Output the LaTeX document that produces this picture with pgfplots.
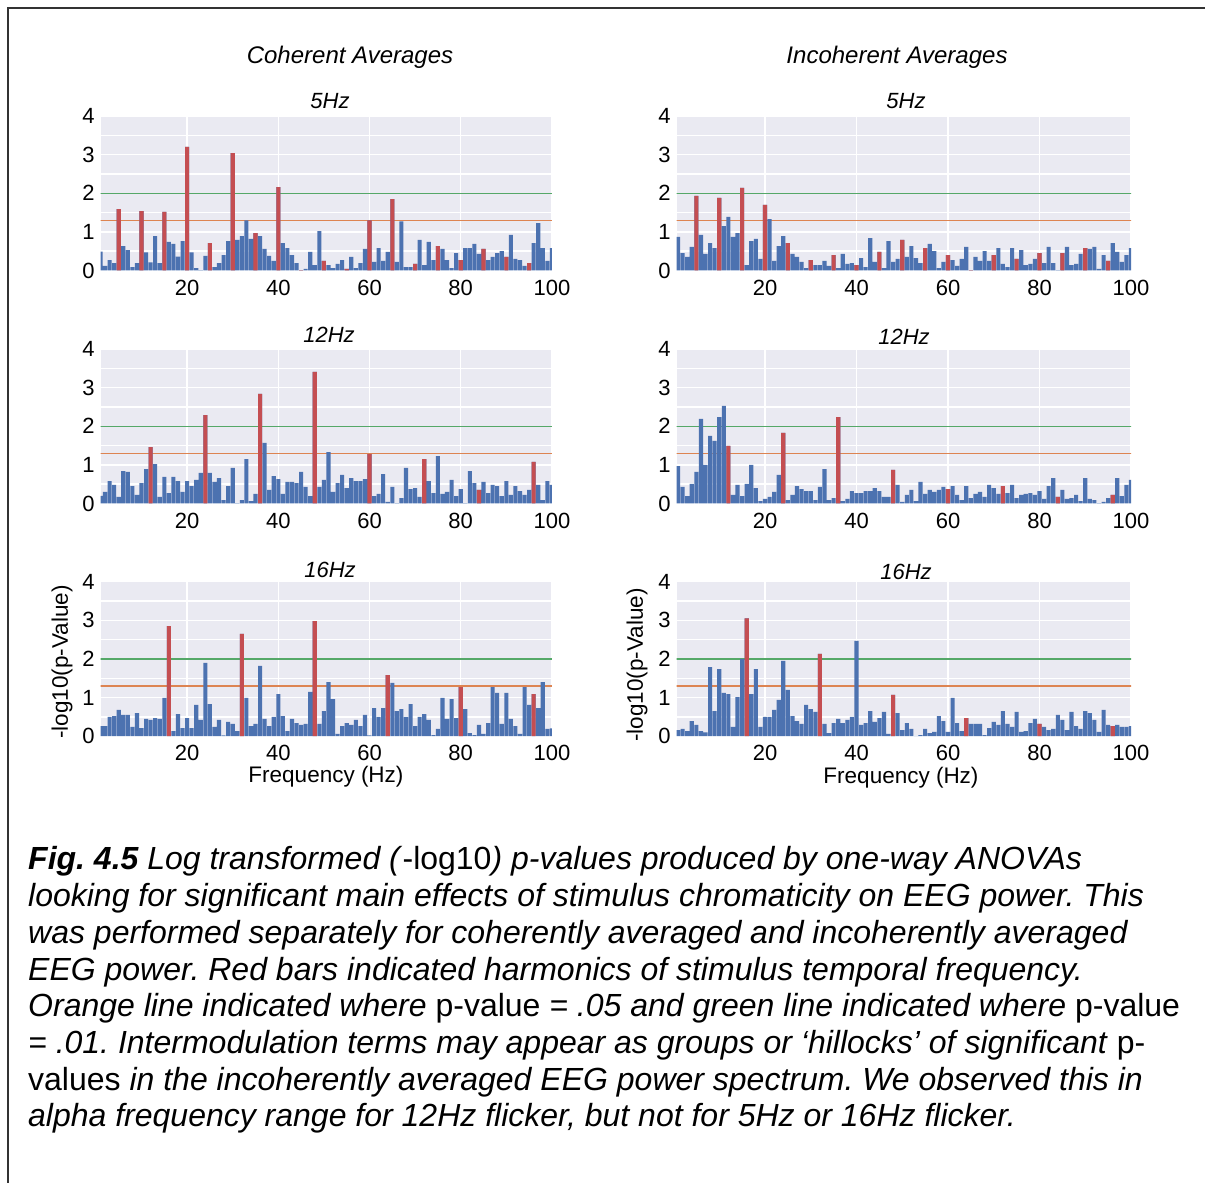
\documentclass[border=0pt]{standalone}
\usepackage{fontspec}
\setmainfont{Liberation Sans}
\usepackage{pgfplots}
\pgfplotsset{compat=1.18}
\definecolor{sbblue}{HTML}{4C72B0}
\definecolor{sbred}{HTML}{C44E52}
\definecolor{sbgreen}{HTML}{55A868}
\definecolor{sborange}{HTML}{DD8452}
\definecolor{sbbg}{HTML}{EAEAF2}
\pgfplotsset{
 panel/.style={
  scale only axis, height=154.4pt, ymin=0, ymax=4,
  anchor=south west,
  axis background/.style={fill=sbbg},
  axis line style={draw=none},
  major tick length=0pt, minor tick length=0pt,
  ytick={0,1,2,3,4}, minor ytick={0.5,1.5,2.5,3.5},
  xtick={20,40,60,80,100},
  grid=both,
  major grid style={white, line width=1.4pt},
  minor grid style={white, line width=1.4pt},
  /pgf/number format/assume math mode=true,
  tick label style={font=\fontsize{22}{26}\selectfont, inner sep=0pt},
  yticklabel style={xshift=-6pt},
  xticklabel style={yshift=-9pt},
 },
 leftp/.style={panel, xmin=1.05, xmax=100, width=451.2pt},
 rightp/.style={panel, xmin=0.7, xmax=100, width=454.3pt},
 bl/.style={ybar, bar width=0.9, bar shift=0pt, fill=sbblue, draw=none},
 rd/.style={ybar, bar width=0.9, bar shift=0pt, fill=sbred, draw=none},
 gl/.style={sbgreen, line width=1.2pt},
 ol/.style={sborange, line width=1.2pt},
}
\begin{document}
\frenchspacing
\begin{tikzpicture}[x=1pt,y=1pt]
\useasboundingbox (0,0) rectangle (1205,1183);
\draw[line width=1.2pt, black!80] (8,0) -- (8,1175) -- (1205,1175);

% ---------- Coherent 5Hz ----------
\begin{axis}[leftp, at={(100.7pt,912.5pt)}]
\addplot[gl] coordinates {(0,2)(101,2)};
\addplot[ol] coordinates {(0,1.30103)(101,1.30103)};
\addplot[bl] coordinates {(1,0.49)(2,0.12)(3,0.27)(4,0.19)(5,1.59)(6,0.63)(7,0.53)(8,0.09)(9,0.19)(10,1.54)(11,0.47)(12,0.21)(13,0.89)(14,0.19)(15,1.52)(16,0.74)(17,0.69)(18,0.36)(19,0.76)(20,3.2)(21,0.47)(22,0.06)(23,0.01)(24,0.38)(25,0.71)(26,0.09)(27,0.19)(28,0.40)(29,0.76)(30,3.04)(31,0.79)(32,0.89)(33,1.30)(34,0.82)(35,0.97)(36,0.89)(37,0.56)(38,0.38)(39,0.25)(40,2.16)(41,0.71)(42,0.58)(43,0.40)(44,0.19)(45,0.01)(46,0.04)(47,0.48)(48,0.14)(49,1.02)(50,0.25)(51,0.14)(52,0.06)(53,0.17)(54,0.27)(55,0.04)(56,0.35)(57,0.06)(58,0.19)(59,0.56)(60,1.30)(61,0.22)(62,0.58)(63,0.25)(64,0.48)(65,1.85)(66,0.22)(67,1.27)(68,0.09)(69,0.09)(70,0.17)(71,0.79)(72,0.14)(73,0.74)(74,0.27)(75,0.63)(76,0.56)(77,0.27)(78,0.06)(79,0.45)(80,0.27)(81,0.58)(82,0.58)(83,0.69)(84,0.43)(85,0.56)(86,0.27)(87,0.35)(88,0.45)(89,0.50)(90,0.35)(91,0.92)(92,0.30)(93,0.27)(94,0.12)(95,0.19)(96,0.71)(97,1.23)(98,0.58)(99,0.25)(100,0.58)};
\addplot[rd] coordinates {(5,1.59)(10,1.54)(15,1.52)(20,3.2)(25,0.71)(30,3.04)(35,0.97)(40,2.16)(45,0.01)(50,0.25)(55,0.04)(60,1.30)(65,1.85)(70,0.17)(75,0.63)(80,0.27)(85,0.56)(90,0.35)(95,0.19)};
\end{axis}

% ---------- Incoherent 5Hz ----------
\begin{axis}[rightp, at={(676.7pt,912.5pt)}]
\addplot[gl] coordinates {(0,2)(101,2)};
\addplot[ol] coordinates {(0,1.30103)(101,1.30103)};
\addplot[bl] coordinates {(1,0.87)(2,0.45)(3,0.35)(4,0.61)(5,1.93)(6,0.92)(7,0.43)(8,0.71)(9,0.58)(10,1.88)(11,1.15)(12,1.39)(13,0.87)(14,0.97)(15,2.14)(16,0.14)(17,0.76)(18,0.82)(19,0.30)(20,1.70)(21,1.33)(22,0.25)(23,0.63)(24,0.89)(25,0.71)(26,0.43)(27,0.35)(28,0.22)(29,0.06)(30,0.27)(31,0.14)(32,0.14)(33,0.25)(34,0.12)(35,0.40)(36,0.06)(37,0.43)(38,0.17)(39,0.19)(40,0.14)(41,0.32)(42,0.09)(43,0.84)(44,0.22)(45,0.48)(46,0.06)(47,0.76)(48,0.22)(49,0.30)(50,0.79)(51,0.35)(52,0.63)(53,0.32)(54,0.19)(55,0.58)(56,0.69)(57,0.50)(58,0.06)(59,0.22)(60,0.40)(61,0.27)(62,0.12)(63,0.30)(64,0.61)(65,0.01)(66,0.35)(67,0.25)(68,0.50)(69,0.25)(70,0.40)(71,0.58)(72,0.17)(73,0.09)(74,0.58)(75,0.30)(76,0.53)(77,0.14)(78,0.17)(79,0.30)(80,0.45)(81,0.19)(82,0.61)(83,0.19)(84,0.01)(85,0.45)(86,0.61)(87,0.14)(88,0.17)(89,0.43)(90,0.58)(91,0.56)(92,0.61)(93,0.04)(94,0.40)(95,0.25)(96,0.71)(97,0.48)(98,0.22)(99,0.40)(100,0.58)};
\addplot[rd] coordinates {(5,1.93)(10,1.88)(15,2.14)(20,1.70)(25,0.71)(30,0.27)(35,0.40)(40,0.14)(45,0.48)(50,0.79)(55,0.58)(60,0.40)(65,0.01)(70,0.40)(75,0.30)(80,0.45)(85,0.45)(90,0.58)(95,0.25)};
\end{axis}

% ---------- Coherent 12Hz ----------
\begin{axis}[leftp, at={(100.7pt,679.5pt)}]
\addplot[gl] coordinates {(0,2)(101,2)};
\addplot[ol] coordinates {(0,1.30103)(101,1.30103)};
\addplot[bl] coordinates {(1,0.20)(2,0.30)(3,0.58)(4,0.48)(5,0.17)(6,0.84)(7,0.82)(8,0.45)(9,0.22)(10,0.53)(11,0.89)(12,1.46)(13,1.02)(14,0.17)(15,0.69)(16,0.27)(17,0.69)(18,0.58)(19,0.30)(20,0.58)(21,0.45)(22,0.61)(23,0.79)(24,2.29)(25,0.79)(26,0.56)(27,0.66)(28,0.09)(29,0.45)(30,0.92)(31,0.01)(32,0.09)(33,1.15)(34,0.06)(35,0.25)(36,2.84)(37,1.57)(38,0.35)(39,0.71)(40,0.63)(41,0.25)(42,0.56)(43,0.56)(44,0.53)(45,0.82)(46,0.43)(47,0.19)(48,3.41)(49,0.43)(50,0.61)(51,1.33)(52,0.30)(53,0.53)(54,0.74)(55,0.40)(56,0.66)(57,0.58)(58,0.58)(59,0.63)(60,1.28)(61,0.19)(62,0.25)(63,0.76)(64,0.04)(65,0.43)(66,0.01)(67,0.14)(68,0.92)(69,0.37)(70,0.40)(71,0.17)(72,1.15)(73,0.58)(74,0.27)(75,1.23)(76,0.25)(77,0.30)(78,0.61)(79,0.19)(80,0.37)(81,0.01)(82,0.84)(83,0.53)(84,0.35)(85,0.56)(86,0.27)(87,0.48)(88,0.45)(89,0.19)(90,0.58)(91,0.22)(92,0.45)(93,0.32)(94,0.22)(95,0.35)(96,1.08)(97,0.48)(98,0.09)(99,0.58)(100,0.48)};
\addplot[rd] coordinates {(12,1.46)(24,2.29)(36,2.84)(48,3.41)(60,1.28)(72,1.15)(84,0.35)(96,1.08)};
\end{axis}

% ---------- Incoherent 12Hz ----------
\begin{axis}[rightp, at={(676.7pt,679.5pt)}]
\addplot[gl] coordinates {(0,2)(101,2)};
\addplot[ol] coordinates {(0,1.30103)(101,1.30103)};
\addplot[bl] coordinates {(1,0.97)(2,0.43)(3,0.19)(4,0.51)(5,0.82)(6,2.19)(7,1.00)(8,1.75)(9,1.62)(10,2.24)(11,2.53)(12,1.49)(13,0.22)(14,0.48)(15,0.19)(16,0.51)(17,1.00)(18,0.40)(19,0.06)(20,0.12)(21,0.17)(22,0.30)(23,0.74)(24,1.83)(25,0.09)(26,0.22)(27,0.45)(28,0.37)(29,0.32)(30,0.32)(31,0.09)(32,0.43)(33,0.89)(34,0.09)(35,0.14)(36,2.24)(37,0.06)(38,0.12)(39,0.32)(40,0.27)(41,0.27)(42,0.32)(43,0.32)(44,0.40)(45,0.32)(46,0.17)(47,0.17)(48,0.87)(49,0.48)(50,0.04)(51,0.22)(52,0.35)(53,0.06)(54,0.56)(55,0.25)(56,0.35)(57,0.30)(58,0.35)(59,0.43)(60,0.37)(61,0.45)(62,0.22)(63,0.09)(64,0.45)(65,0.14)(66,0.25)(67,0.30)(68,0.17)(69,0.48)(70,0.40)(71,0.25)(72,0.45)(73,0.27)(74,0.48)(75,0.14)(76,0.22)(77,0.25)(78,0.27)(79,0.22)(80,0.32)(81,0.12)(82,0.45)(83,0.66)(84,0.17)(85,0.35)(86,0.12)(87,0.14)(88,0.22)(89,0.06)(90,0.66)(91,0.12)(92,0.09)(93,0.01)(94,0.04)(95,0.14)(96,0.22)(97,0.66)(98,0.19)(99,0.48)(100,0.61)};
\addplot[rd] coordinates {(12,1.49)(24,1.83)(36,2.24)(48,0.87)(60,0.37)(72,0.45)(84,0.17)(96,0.22)};
\end{axis}

% ---------- Coherent 16Hz ----------
\begin{axis}[leftp, at={(100.7pt,446.8pt)}]
\addplot[gl] coordinates {(0,2)(101,2)};
\addplot[ol] coordinates {(0,1.30103)(101,1.30103)};
\addplot[bl] coordinates {(1,0.26)(2,0.26)(3,0.50)(4,0.52)(5,0.68)(6,0.55)(7,0.55)(8,0.24)(9,0.60)(10,0.21)(11,0.45)(12,0.42)(13,0.47)(14,0.45)(15,0.99)(16,2.85)(17,0.13)(18,0.57)(19,0.21)(20,0.47)(21,0.21)(22,0.81)(23,0.42)(24,1.90)(25,0.83)(26,0.24)(27,0.42)(28,0.02)(29,0.37)(30,0.32)(31,0.13)(32,2.65)(33,0.99)(34,0.26)(35,0.32)(36,1.82)(37,0.45)(38,0.26)(39,0.50)(40,1.09)(41,0.52)(42,0.13)(43,0.45)(44,0.34)(45,0.29)(46,0.32)(47,1.15)(48,2.98)(49,0.32)(50,0.65)(51,1.40)(52,0.96)(53,0.06)(54,0.26)(55,0.34)(56,0.29)(57,0.42)(58,0.26)(59,0.55)(60,0.02)(61,0.73)(62,0.50)(63,0.73)(64,1.58)(65,1.38)(66,0.65)(67,0.70)(68,0.50)(69,0.83)(70,0.26)(71,0.50)(72,0.57)(73,0.42)(74,0.03)(75,0.19)(76,0.99)(77,0.45)(78,0.96)(79,0.47)(80,1.27)(81,0.70)(82,0.08)(83,0.03)(84,0.29)(85,0.06)(86,0.34)(87,1.27)(88,1.12)(89,0.32)(90,1.12)(91,0.45)(92,0.26)(93,0.06)(94,1.27)(95,0.81)(96,1.09)(97,0.73)(98,1.40)(99,0.19)(100,0.20)};
\addplot[rd] coordinates {(16,2.85)(32,2.65)(48,2.98)(64,1.58)(80,1.27)(96,1.09)};
\end{axis}

% ---------- Incoherent 16Hz ----------
\begin{axis}[rightp, at={(676.7pt,446.8pt)}]
\addplot[gl] coordinates {(0,2)(101,2)};
\addplot[ol] coordinates {(0,1.30103)(101,1.30103)};
\addplot[bl] coordinates {(1,0.16)(2,0.19)(3,0.13)(4,0.39)(5,0.29)(6,0.13)(7,0.10)(8,1.79)(9,0.65)(10,1.74)(11,1.12)(12,1.09)(13,0.24)(14,1.01)(15,2.00)(16,3.05)(17,1.09)(18,1.74)(19,0.24)(20,0.50)(21,0.50)(22,0.68)(23,0.94)(24,1.95)(25,1.20)(26,0.52)(27,0.39)(28,0.32)(29,0.81)(30,0.70)(31,0.63)(32,2.13)(33,0.32)(34,0.08)(35,0.34)(36,0.45)(37,0.34)(38,0.42)(39,0.50)(40,2.47)(41,0.29)(42,0.34)(43,0.65)(44,0.37)(45,0.47)(46,0.63)(47,0.06)(48,1.07)(49,0.60)(50,0.16)(51,0.34)(52,0.19)(53,0.01)(54,0.03)(55,0.19)(56,0.08)(57,0.11)(58,0.52)(59,0.39)(60,0.11)(61,0.99)(62,0.34)(63,0.13)(64,0.47)(65,0.32)(66,0.32)(67,0.32)(68,0.03)(69,0.21)(70,0.37)(71,0.29)(72,0.65)(73,0.32)(74,0.24)(75,0.63)(76,0.11)(77,0.13)(78,0.34)(79,0.45)(80,0.32)(81,0.24)(82,0.16)(83,0.19)(84,0.55)(85,0.42)(86,0.16)(87,0.63)(88,0.26)(89,0.19)(90,0.65)(91,0.60)(92,0.42)(93,0.11)(94,0.68)(95,0.29)(96,0.26)(97,0.29)(98,0.24)(99,0.24)(100,0.26)};
\addplot[rd] coordinates {(16,3.05)(32,2.13)(48,1.07)(64,0.47)(80,0.32)(96,0.26)};
\end{axis}

% ---------- titles and labels ----------
\node[font=\fontsize{24}{28}\selectfont\itshape, anchor=base] at (350,1119.5) {Coherent Averages};
\node[font=\fontsize{24}{28}\selectfont\itshape, anchor=base] at (897,1119.5) {Incoherent Averages};
\begin{scope}[every node/.style={font=\fontsize{22}{26}\selectfont\itshape, anchor=base}]
\node at (330,1074) {5Hz};
\node at (906,1074) {5Hz};
\node at (329,840) {12Hz};
\node at (904,838) {12Hz};
\node at (330,605) {16Hz};
\node at (906,603) {16Hz};
\end{scope}
\begin{scope}[every node/.style={font=\fontsize{22.5}{26}\selectfont}]
\node[rotate=90] at (62,521) {-log10(p-Value)};
\node[rotate=90] at (637,518) {-log10(p-Value)};
\node at (326,406) {Frequency (Hz)};
\node at (901,405) {Frequency (Hz)};
\end{scope}

% ---------- caption ----------
\begin{scope}[every node/.style={font=\fontsize{32}{37}\selectfont\itshape, anchor=base west, inner sep=0pt}]
\node at (28,313) {\textbf{Fig. 4.5} Log transformed (\textup{-log10}) p-values produced by one-way ANOVAs};
\node at (28,276.3) {looking for significant main effects of stimulus chromaticity on EEG power. This};
\node at (28,239.6) {was performed separately for coherently averaged and incoherently averaged};
\node at (28,202.9) {EEG power. Red bars indicated harmonics of stimulus temporal frequency.};
\node at (28,166.2) {Orange line indicated where \textup{p-value} = .05 and green line indicated where \textup{p-value}};
\node at (28,129.5) {= .01. Intermodulation terms may appear as groups or ‘hillocks’ of significant \textup{p-}};
\node at (28,92.8) {\textup{values} in the incoherently averaged EEG power spectrum. We observed this in};
\node at (28,56.1) {alpha frequency range for 12Hz flicker, but not for 5Hz or 16Hz flicker.};
\end{scope}
\end{tikzpicture}
\end{document}
